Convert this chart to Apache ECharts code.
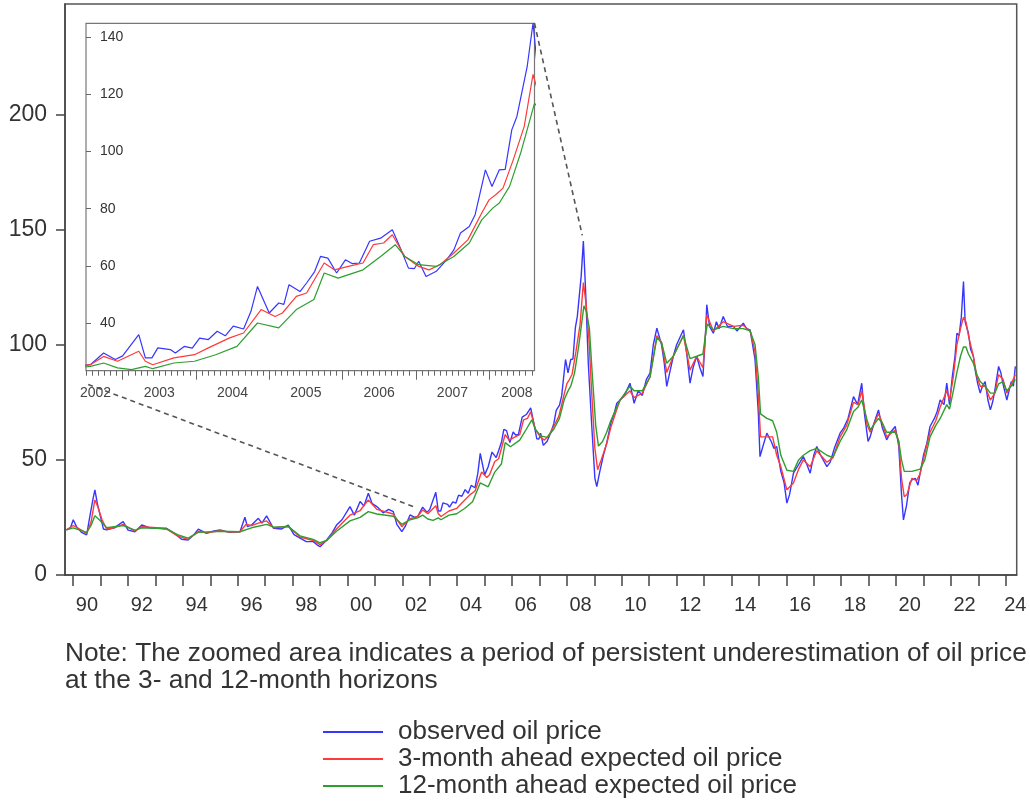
<!DOCTYPE html>
<html>
<head>
<meta charset="utf-8">
<script src="https://cdn.jsdelivr.net/npm/echarts/dist/echarts.min.js"></script>
<style>html,body{margin:0;padding:0;background:#fff;}#c{width:1030px;height:812px;}</style>
</head>
<body>
<div id="c"></div>
<script>
// ---------- data (year, value) ----------
const seriesNames = ['observed oil price', '3-month ahead expected oil price', '12-month ahead expected oil price'];

const observed = [
[1989.75,19.6],[1989.9,20.5],[1990.0,24],[1990.12,21],[1990.3,18.5],[1990.49,17.4],[1990.6,25],[1990.72,33],[1990.79,37],[1990.88,31],
[1991.0,25],[1991.1,20],[1991.22,19.6],[1991.5,20.5],[1991.82,23.2],[1992.0,19.5],[1992.25,18.8],[1992.5,21.7],[1992.8,20.5],[1993.04,20.3],
[1993.4,20.3],[1993.7,18],[1993.95,15.5],[1994.19,15.2],[1994.4,17.5],[1994.56,19.9],[1994.86,18.1],[1995.1,19],[1995.35,19.6],[1995.7,18.5],
[1996.08,18.8],[1996.26,25.1],[1996.35,21],[1996.5,21.7],[1996.75,24.6],[1996.88,22.5],[1997.05,25.7],[1997.3,20.3],[1997.6,20],[1997.84,21.7],
[1998.05,17.5],[1998.27,16],[1998.5,14.5],[1998.75,14.5],[1998.9,13],[1999.0,12.3],[1999.1,13.5],[1999.24,15.2],[1999.45,18.5],[1999.6,21.7],
[1999.8,24],[2000.09,29.7],[2000.25,26],[2000.46,31.9],[2000.6,30],[2000.76,35.5],[2000.9,31],[2001.07,29.7],[2001.3,27],[2001.5,28.5],
[2001.67,27.5],[2001.8,22],[2001.98,18.8],[2002.1,21],[2002.28,26.1],[2002.45,25],
[2002.56,25.4],[2002.74,29.5],[2002.9,27.2],[2003.0,28.5],[2003.22,35.9],[2003.31,27.8],[2003.4,27.8],[2003.48,31.3],[2003.65,30.7],[2003.72,29.5],
[2003.84,31.8],[2003.95,31.2],[2004.05,34.7],[2004.17,34.2],[2004.29,37.1],[2004.4,35.5],[2004.51,38.9],[2004.65,37.9],[2004.75,44],[2004.84,52.8],
[2005.0,43.5],[2005.13,47],[2005.2,46.5],[2005.27,53.4],[2005.42,51],[2005.51,54],[2005.62,58],[2005.7,63.3],[2005.8,62.7],[2005.92,57.5],
[2006.04,62.1],[2006.13,60.8],[2006.23,61],[2006.37,68.6],[2006.52,69.7],[2006.68,72.6],[2006.8,65.6],[2006.9,59.2],[2006.98,59],[2007.04,61.6],
[2007.14,56.3],[2007.28,58.1],[2007.42,62.1],[2007.52,65.6],[2007.61,71.5],[2007.73,73.8],[2007.81,77.9],[2007.95,93.6],[2008.04,87.8],[2008.14,93.6],
[2008.22,93.8],[2008.31,107.6],[2008.38,112.3],[2008.52,129.7],[2008.6,145],
[2008.68,124],[2008.78,92],[2008.9,66],[2009.02,42],[2009.09,38.4],[2009.2,45],[2009.33,52],[2009.45,57.2],[2009.6,66],[2009.72,70],
[2009.82,74.6],[2009.94,76],[2010.1,78],[2010.3,83.3],[2010.45,74.6],[2010.6,80],[2010.75,78],[2010.9,85],[2011.03,87.7],[2011.15,100],
[2011.28,107.2],[2011.45,100],[2011.55,92],[2011.64,81.9],[2011.75,88],[2011.88,95],[2012.0,100],[2012.25,106.5],[2012.38,95],[2012.49,83.3],
[2012.6,90],[2012.73,95],[2012.85,90],[2012.96,86.2],[2013.05,104],[2013.1,117.4],[2013.2,108],[2013.34,105],[2013.45,110],[2013.55,107],
[2013.7,112.3],[2013.85,108],[2014.07,108],[2014.2,106],[2014.43,109.4],[2014.55,107],[2014.68,106.5],[2014.86,93.5],[2014.98,70.3],[2015.04,51.4],
[2015.15,56],[2015.29,61.6],[2015.45,58],[2015.55,55],[2015.65,55.8],[2015.8,45],[2015.92,40],[2016.02,31.2],[2016.12,35],[2016.26,44.2],
[2016.45,48],[2016.62,51.4],[2016.75,48],[2016.87,44.2],[2017.0,52],[2017.11,55.8],[2017.25,52],[2017.48,47.1],[2017.6,49],[2017.75,55],
[2017.96,61.6],[2018.1,64],[2018.25,68],[2018.45,77.5],[2018.6,74],[2018.75,83.3],[2018.85,70],[2018.98,58],[2019.06,60.1],[2019.2,66],
[2019.36,71.7],[2019.5,64],[2019.66,58.7],[2019.8,62],[2019.97,64.5],[2020.1,56],[2020.2,35],[2020.27,23.9],[2020.38,30],[2020.5,40],
[2020.58,41.3],[2020.7,42],[2020.8,39],[2020.88,44.2],[2021.0,52],[2021.12,57],[2021.24,64.5],[2021.4,68],[2021.5,71],[2021.61,76],
[2021.75,74],[2021.85,83.3],[2021.95,74],[2022.05,86],[2022.15,95],[2022.22,105],[2022.3,104],[2022.38,112],[2022.46,127.5],[2022.52,110],
[2022.64,105],[2022.72,98],[2022.82,95],[2022.9,88],[2022.98,83],[2023.07,79],[2023.15,82],[2023.25,84],[2023.35,76],[2023.44,71.7],
[2023.52,75],[2023.6,80],[2023.74,90.6],[2023.82,88],[2023.9,83],[2023.98,79],[2024.04,76],[2024.12,80],[2024.2,84],[2024.28,82],[2024.35,90.6]
];

const expected3m = [
[1989.75,19.6],[1990.0,21.5],[1990.3,19.5],[1990.49,18],[1990.65,23],[1990.79,32.6],[1990.9,29.5],[1991.05,24],[1991.22,20],[1991.5,20.5],
[1991.82,22],[1992.25,19],[1992.5,21],[1993.04,20.5],[1993.4,20],[1993.8,17],[1994.19,15.5],[1994.56,19],[1994.86,18.3],[1995.35,19.2],
[1995.7,18.6],[1996.08,18.8],[1996.3,22],[1996.5,21.5],[1996.75,22.5],[1997.05,23.5],[1997.3,20.5],[1997.84,21.2],[1998.27,16.5],[1998.75,15],
[1999.0,13.2],[1999.24,15],[1999.6,20],[1999.8,22.5],[2000.09,26],[2000.46,28],[2000.76,32.6],[2001.07,28.5],[2001.67,26.5],[2001.98,21],
[2002.28,24.5],
[2002.56,25.4],[2002.74,28.3],[2002.93,26.6],[2003.22,30.1],[2003.31,26.6],[2003.41,25.4],[2003.7,27.8],[2003.98,28.9],[2004.17,31.3],[2004.46,34.8],
[2004.65,36.5],[2004.89,44.7],[2005.08,42.3],[2005.18,43.5],[2005.37,49.3],[2005.51,50.5],[2005.75,61],[2005.89,58.6],[2006.08,59.8],[2006.28,61],
[2006.42,67.4],[2006.56,68],[2006.68,70.9],[2006.85,63.3],[2007.04,59.8],[2007.18,58.6],[2007.33,60.4],[2007.52,64.5],[2007.71,69.1],[2007.9,78.5],
[2008.0,83.1],[2008.09,84.9],[2008.19,87.2],[2008.33,97.1],[2008.48,108.8],[2008.6,127],
[2008.7,118],[2008.8,103],[2008.9,80],[2009.02,55],[2009.12,45.7],[2009.25,50],[2009.45,57],[2009.6,64],[2009.82,72],[2009.94,76],
[2010.3,80],[2010.45,77],[2010.75,79],[2011.03,86],[2011.28,104],[2011.45,101],[2011.64,88],[2011.88,95],[2012.25,104],[2012.49,89],
[2012.73,95],[2012.96,90],[2013.05,104],[2013.1,113],[2013.34,106],[2013.7,110],[2014.07,108],[2014.43,108.5],[2014.68,106],[2014.86,97],
[2014.98,78],[2015.06,60],[2015.29,60],[2015.5,60],[2015.65,52],[2015.8,47],[2016.02,37],[2016.26,40],[2016.45,46],[2016.62,50],
[2016.87,47],[2017.11,54],[2017.48,49],[2017.7,51],[2017.96,60],[2018.2,65],[2018.45,75],[2018.62,74],[2018.75,80],[2018.95,65],
[2019.06,62],[2019.36,70],[2019.5,66],[2019.66,60],[2019.97,63],[2020.1,58],[2020.2,42],[2020.3,34],[2020.4,35],[2020.58,42],
[2020.75,41],[2020.88,44],[2021.05,53],[2021.24,62],[2021.45,67],[2021.61,73],[2021.85,80],[2021.95,76],[2022.09,86],[2022.22,100],
[2022.35,107],[2022.46,112],[2022.55,110],[2022.64,104],[2022.82,95],[2022.95,86],[2023.07,82],[2023.25,82],[2023.44,76],[2023.6,79],
[2023.74,87],[2023.9,85],[2024.04,79],[2024.2,83],[2024.35,87]
];

const expected12m = [
[1989.75,19.6],[1990.0,20.5],[1990.49,18.5],[1990.65,21.5],[1990.79,25.7],[1990.95,24],[1991.22,20.5],[1991.82,21.5],[1992.25,19.5],[1992.5,20.5],
[1993.04,20.3],[1993.4,20],[1993.8,17.5],[1994.19,16],[1994.56,18.5],[1995.35,19],[1996.08,18.8],[1996.5,20.5],[1997.05,22],[1997.3,20.8],
[1997.84,21],[1998.27,17],[1998.75,15.5],[1999.0,14],[1999.24,15],[1999.6,19],[2000.09,23.5],[2000.46,25],[2000.76,27.5],[2001.07,26.5],
[2001.67,25.5],[2001.98,22],[2002.28,24],
[2002.56,24.8],[2002.74,26],[2002.93,24.3],[2003.12,23.7],[2003.31,24.8],[2003.41,24],[2003.7,26],[2003.98,26.6],[2004.27,28.9],[2004.56,31.8],
[2004.84,40],[2005.13,38.3],[2005.37,44.7],[2005.61,48.2],[2005.75,57.5],[2005.94,55.7],[2006.28,58.6],[2006.52,63.3],[2006.72,67.4],[2006.85,63.3],
[2007.04,60.4],[2007.28,59.8],[2007.52,63.3],[2007.73,68],[2007.9,76.1],[2008.05,80.2],[2008.14,82],[2008.28,87.8],[2008.43,99.4],[2008.62,116.9],
[2008.72,114],[2008.82,107],[2008.92,88],[2009.05,65],[2009.15,56],[2009.3,58],[2009.45,62],[2009.6,67],[2009.82,73],[2009.94,76],
[2010.3,82],[2010.45,80],[2010.75,80],[2011.03,86],[2011.28,103],[2011.45,101],[2011.64,92],[2011.88,95],[2012.25,104],[2012.49,94],
[2012.73,95],[2012.96,96],[2013.05,104],[2013.12,109],[2013.34,106.5],[2013.7,108],[2014.07,107],[2014.43,107],[2014.68,106],[2014.86,100],
[2014.98,86],[2015.06,70],[2015.29,68],[2015.5,67],[2015.65,62],[2015.8,52],[2016.02,45.5],[2016.26,45],[2016.45,50],[2016.62,52],
[2016.87,54],[2017.11,55],[2017.48,52],[2017.7,51],[2017.96,58],[2018.2,63],[2018.45,71],[2018.62,73],[2018.75,76],[2018.95,67],
[2019.06,63],[2019.36,68],[2019.5,66],[2019.66,62],[2019.97,62],[2020.1,58],[2020.2,50],[2020.3,45],[2020.45,45],[2020.58,45],
[2020.88,46],[2021.05,50],[2021.24,60],[2021.45,65],[2021.61,68],[2021.85,74],[2021.95,72],[2022.09,80],[2022.22,88],[2022.35,95],
[2022.46,99],[2022.55,99],[2022.64,96],[2022.82,92],[2022.95,87],[2023.07,84],[2023.25,82],[2023.44,79],[2023.6,79],[2023.74,83],
[2023.9,84],[2024.04,80],[2024.2,82],[2024.35,85]
];

// ---------- axis ticks / labels ----------
const xTickLabels = ['90','92','94','96','98','00','02','04','06','08','10','12','14','16','18','20','22','24'];
const xLabelPos   = [1990.5,1992.5,1994.5,1996.5,1998.5,2000.5,2002.5,2004.5,2006.5,2008.5,2010.5,2012.5,2014.5,2016.5,2018.5,2020.5,2022.5,2024.35];
const yTicks = [0,50,100,150,200];
const insetYTicks = [40,60,80,100,120,140];
const insetXLabels = ['2002','2003','2004','2005','2006','2007','2008'];
const insetXLabelPos = [2002.63,2003.5,2004.5,2005.5,2006.5,2007.5,2008.38];
const insetYearTicks = [2003,2004,2005,2006,2007,2008];
const noteLines = ['Note: The zoomed area indicates a period of persistent underestimation of oil price',
                   'at the 3- and 12-month horizons'];
// connector anchors: [inset coord] -> [main coord]
const connLow  = {from:[2002.53,18.5], to:[2002.42,29.6]};
const connHigh = {from:[2008.62,144.9], to:[2008.56,147.5]};

const mainTickYears = [];
for (let y = 1990; y <= 2024; y++) mainTickYears.push(y);
const insetMonthTicks = [];
for (let k = 6; 2002 + k/12 <= 2008.62; k++) insetMonthTicks.push(+(2002 + k/12).toFixed(4));

const colors = ['#3636ff', '#ff3a3a', '#2e9e2e'];
const FONT = '"Liberation Sans", Arial, Helvetica, sans-serif';
const dataSets = [observed, expected3m, expected12m];

const chart = echarts.init(document.getElementById('c'), null, {renderer:'canvas'});

const series = [];
dataSets.forEach((d, i) => {
  series.push({name: seriesNames[i], type:'line', xAxisIndex:0, yAxisIndex:0, data:d,
    symbol:'none', showSymbol:false, lineStyle:{color:colors[i], width:1.4}, itemStyle:{color:colors[i]}, z:2});
});
dataSets.forEach((d, i) => {
  series.push({name: seriesNames[i], type:'line', xAxisIndex:1, yAxisIndex:1, data:d,
    symbol:'none', showSymbol:false, clip:true, lineStyle:{color:colors[i], width:1.2}, itemStyle:{color:colors[i]}, z:3});
});

const option = {
  animation:false,
  backgroundColor:'#fff',
  textStyle:{fontFamily:FONT},
  title:{text:noteLines.join('\n'), left:65, top:640, padding:0,
    textStyle:{fontFamily:FONT, fontSize:26.3, lineHeight:27, fontWeight:'normal', color:'#333'}},
  legend:{orient:'vertical', left:323, top:719, padding:0, itemWidth:60, itemHeight:2, itemGap:1,
    icon:'rect', data:seriesNames, selectedMode:false,
    textStyle:{fontFamily:FONT, fontSize:26, lineHeight:26, color:'#333', padding:[0,0,0,10]}},
  grid:[
    {left:65, top:4, right:13.3, bottom:237, show:true, borderColor:'#555', borderWidth:1.5},
    {left:86, top:23.3, right:495.5, bottom:441.3, show:true, backgroundColor:'#fff', borderColor:'#777', borderWidth:1.2}
  ],
  xAxis:[
    {type:'value', gridIndex:0, position:'bottom', min:1989.7, max:2024.4, splitLine:{show:false},
      axisLine:{lineStyle:{color:'#444', width:1.5}},
      axisTick:{customValues:mainTickYears, length:11, lineStyle:{color:'#444', width:1.5}},
      axisLabel:{customValues:xLabelPos, fontFamily:FONT, fontSize:20, color:'#333', margin:20,
        formatter:(v)=>{const i = xLabelPos.indexOf(v); return i >= 0 ? xTickLabels[i] : '';}}},
    {type:'value', gridIndex:1, position:'bottom', min:2002.5, max:2008.62, splitLine:{show:false},
      axisLine:{show:false},
      axisTick:{customValues:insetMonthTicks, length:5, lineStyle:{color:'#666', width:1}},
      axisLabel:{customValues:insetXLabelPos, fontFamily:FONT, fontSize:14, color:'#444', margin:15,
        formatter:(v)=>{const i = insetXLabelPos.indexOf(v); return i >= 0 ? insetXLabels[i] : '';}}},
    {type:'value', gridIndex:1, position:'bottom', offset:0, min:2002.5, max:2008.62, splitLine:{show:false},
      axisLine:{show:false},
      axisTick:{customValues:insetYearTicks, length:9, lineStyle:{color:'#666', width:1}},
      axisLabel:{show:false}}
  ],
  yAxis:[
    {type:'value', gridIndex:0, min:0, max:248, splitLine:{show:false},
      axisLine:{show:true, lineStyle:{color:'#444', width:1.5}},
      axisTick:{show:true, customValues:yTicks, length:9, lineStyle:{color:'#444', width:1.5}},
      axisLabel:{customValues:yTicks, fontFamily:FONT, fontSize:23, color:'#333', margin:18}},
    {type:'value', gridIndex:1, min:23.3, max:144.9, splitLine:{show:false},
      axisLine:{show:false},
      axisTick:{show:true, customValues:insetYTicks, inside:true, length:5, lineStyle:{color:'#666', width:1}},
      axisLabel:{customValues:insetYTicks, inside:true, margin:14, fontFamily:FONT, fontSize:14, color:'#333'}}
  ],
  series:series
};
chart.setOption(option);

function conn(c) {
  const a = chart.convertToPixel({xAxisIndex:1, yAxisIndex:1}, c.from);
  const b = chart.convertToPixel({xAxisIndex:0, yAxisIndex:0}, c.to);
  return {type:'line', z:10, silent:true,
    shape:{x1:a[0], y1:a[1], x2:b[0], y2:b[1]},
    style:{stroke:'#555', lineWidth:1.6, lineDash:[5,4]}};
}
chart.setOption({graphic:[conn(connLow), conn(connHigh)]});
</script>
</body>
</html>
